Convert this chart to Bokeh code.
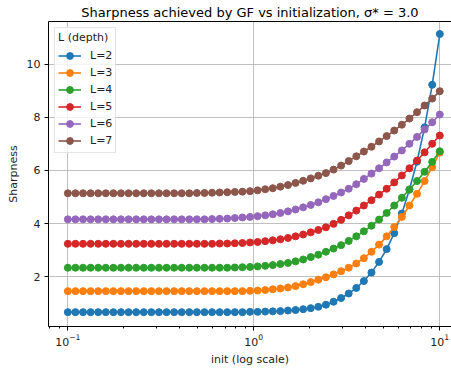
from bokeh.plotting import figure
from bokeh.models import FixedTicker, LinearAxis, Range1d
from bokeh.embed import file_html
from bokeh.resources import INLINE

# ---- data ----
init_values = [0.1, 0.10985, 0.12068, 0.13257, 0.14563, 0.15999, 0.17575, 0.19307, 0.21210, 0.23300,
               0.25595, 0.28118, 0.30888, 0.33932, 0.37276, 0.40949, 0.44984, 0.49417, 0.54287, 0.59636,
               0.65513, 0.71969, 0.79060, 0.86851, 0.95410, 1.04811, 1.15140, 1.26486, 1.38950, 1.52642,
               1.67683, 1.84207, 2.02359, 2.22300, 2.44205, 2.68270, 2.94705, 3.23746, 3.55648, 3.90694,
               4.29193, 4.71487, 5.17947, 5.68987, 6.25055, 6.86649, 7.54312, 8.28643, 9.10298, 10.0]

sharpness_L2 = [0.67, 0.67, 0.67, 0.67, 0.67, 0.67, 0.67, 0.67, 0.67, 0.67,
                0.67, 0.67, 0.67, 0.67, 0.67, 0.67, 0.67, 0.67, 0.67, 0.67,
                0.67, 0.67, 0.67, 0.67, 0.68, 0.68, 0.69, 0.70, 0.71, 0.73,
                0.75, 0.78, 0.82, 0.87, 0.95, 1.06, 1.20, 1.37, 1.58, 1.84,
                2.16, 2.56, 3.04, 3.64, 4.38, 5.28, 6.33, 7.62, 9.22, 11.13]
sharpness_L3 = [1.46, 1.46, 1.46, 1.46, 1.46, 1.46, 1.46, 1.46, 1.46, 1.46,
                1.46, 1.46, 1.46, 1.46, 1.46, 1.46, 1.46, 1.46, 1.46, 1.46,
                1.46, 1.46, 1.46, 1.46, 1.47, 1.48, 1.50, 1.53, 1.56, 1.60,
                1.65, 1.72, 1.80, 1.89, 1.98, 2.09, 2.21, 2.34, 2.50, 2.70,
                2.94, 3.21, 3.52, 3.87, 4.25, 4.68, 5.12, 5.60, 6.12, 6.67]
sharpness_L4 = [2.34, 2.34, 2.34, 2.34, 2.34, 2.34, 2.34, 2.34, 2.34, 2.34,
                2.34, 2.34, 2.34, 2.34, 2.34, 2.34, 2.34, 2.34, 2.34, 2.34,
                2.34, 2.34, 2.35, 2.36, 2.37, 2.39, 2.41, 2.44, 2.48, 2.52,
                2.58, 2.65, 2.74, 2.83, 2.94, 3.06, 3.19, 3.35, 3.52, 3.71,
                3.92, 4.15, 4.40, 4.68, 4.97, 5.28, 5.60, 5.95, 6.32, 6.72]
sharpness_L5 = [3.24, 3.24, 3.24, 3.24, 3.24, 3.24, 3.24, 3.24, 3.24, 3.24,
                3.24, 3.24, 3.24, 3.24, 3.24, 3.24, 3.24, 3.24, 3.24, 3.24,
                3.25, 3.25, 3.26, 3.27, 3.29, 3.31, 3.34, 3.37, 3.41, 3.46,
                3.52, 3.59, 3.67, 3.76, 3.86, 3.99, 4.14, 4.31, 4.49, 4.68,
                4.88, 5.09, 5.31, 5.55, 5.81, 6.08, 6.37, 6.68, 7.00, 7.31]
sharpness_L6 = [4.16, 4.16, 4.16, 4.16, 4.16, 4.16, 4.16, 4.16, 4.16, 4.16,
                4.16, 4.16, 4.16, 4.16, 4.16, 4.16, 4.16, 4.16, 4.16, 4.17,
                4.18, 4.19, 4.21, 4.23, 4.25, 4.28, 4.31, 4.35, 4.40, 4.46,
                4.53, 4.61, 4.70, 4.80, 4.92, 5.04, 5.17, 5.31, 5.48, 5.68,
                5.88, 6.08, 6.30, 6.52, 6.75, 7.00, 7.26, 7.54, 7.81, 8.10]
sharpness_L7 = [5.14, 5.14, 5.14, 5.14, 5.14, 5.14, 5.14, 5.14, 5.14, 5.14,
                5.14, 5.14, 5.14, 5.14, 5.14, 5.14, 5.14, 5.15, 5.15, 5.16,
                5.17, 5.18, 5.19, 5.20, 5.22, 5.25, 5.29, 5.33, 5.39, 5.45,
                5.53, 5.61, 5.70, 5.80, 5.90, 6.03, 6.18, 6.35, 6.53, 6.71,
                6.89, 7.09, 7.29, 7.50, 7.72, 7.95, 8.19, 8.44, 8.70, 8.98]

depth_labels = ["L=2", "L=3", "L=4", "L=5", "L=6", "L=7"]
series_colors = ["#1f77b4", "#ff7f0e", "#2ca02c", "#d62728", "#9467bd", "#8c564b"]
y_ticks = [2, 4, 6, 8, 10]

title_text = "Sharpness achieved by GF vs initialization, σ* = 3.0"
x_label = "init (log scale)"
y_label = "Sharpness"
legend_title = "L (depth)"

FONT = "DejaVu Sans"

p = figure(width=451, height=371, x_axis_type="log",
           x_range=Range1d(0.0787, 11.56), y_range=Range1d(0.13, 11.6),
           output_backend="svg", toolbar_location=None,
           min_border_left=48, min_border_right=0, min_border_top=21, min_border_bottom=45,
           title=title_text)

p.background_fill_color = "white"
p.border_fill_color = "white"
p.outline_line_color = None

p.title.text_font = FONT
p.title.text_font_size = "13px"
p.title.text_font_style = "normal"
p.title.text_color = "black"
p.title.align = "center"
p.title.standoff = 4

# top spine
top_axis = LinearAxis(ticker=FixedTicker(ticks=[]), axis_line_color="black", axis_line_width=1,
                      major_tick_line_color=None, minor_tick_line_color=None,
                      major_tick_out=0, minor_tick_out=0, major_label_standoff=0)
p.add_layout(top_axis, "above")

xaxis = p.below[0]
yaxis = p.left[0]

for ax in (xaxis, yaxis):
    ax.axis_line_color = "black"
    ax.axis_line_width = 1
    ax.major_tick_line_color = "black"
    ax.major_tick_out = 4
    ax.major_tick_in = 0
    ax.major_label_text_font = FONT
    ax.major_label_text_font_size = "11px"
    ax.major_label_text_color = "#222222"
    ax.axis_label_text_font = FONT
    ax.axis_label_text_font_size = "11px"
    ax.axis_label_text_font_style = "normal"
    ax.axis_label_text_color = "#222222"
    ax.major_label_standoff = 4
    ax.axis_label_standoff = 4

xaxis.axis_label = x_label
xaxis.minor_tick_line_color = "black"
xaxis.minor_tick_out = 2
xaxis.minor_tick_in = 0
xaxis.major_label_standoff = 3

yaxis.axis_label = y_label
yaxis.ticker = FixedTicker(ticks=y_ticks)
yaxis.minor_tick_line_color = None

p.xgrid.grid_line_color = "#b0b0b0"
p.ygrid.grid_line_color = "#b0b0b0"
p.xgrid.grid_line_width = 0.8
p.ygrid.grid_line_width = 0.8
p.ygrid.ticker = FixedTicker(ticks=y_ticks)

all_series = [sharpness_L2, sharpness_L3, sharpness_L4, sharpness_L5, sharpness_L6, sharpness_L7]
for vals, lab, col in zip(all_series, depth_labels, series_colors):
    p.line(init_values, vals, line_color=col, line_width=1.6, legend_label=lab)
    p.scatter(init_values, vals, marker="circle", size=7, fill_color=col, line_color=col,
              legend_label=lab)

leg = p.legend[0]
leg.title = legend_title
leg.title_text_font = FONT
leg.title_text_font_size = "11px"
leg.title_text_font_style = "normal"
leg.title_text_color = "#222222"
leg.title_standoff = 3
leg.location = "top_left"
leg.margin = 6
leg.padding = 3
leg.spacing = 0
leg.glyph_height = 17
leg.label_height = 17
leg.glyph_width = 23
leg.label_standoff = 9
leg.label_text_font = FONT
leg.label_text_font_size = "11px"
leg.label_text_color = "#222222"
leg.border_line_color = "#cccccc"
leg.border_line_width = 1
leg.background_fill_color = "white"
leg.background_fill_alpha = 0.8

open("out.html", "w").write(file_html(p, INLINE))
